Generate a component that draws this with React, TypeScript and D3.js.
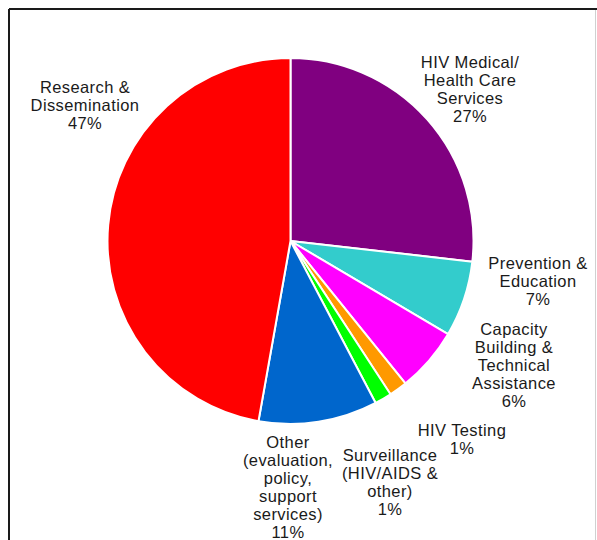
import React from "react";
import * as d3 from "d3";

const categories = [
  "HIV Medical/Health Care Services",
  "Prevention & Education",
  "Capacity Building & Technical Assistance",
  "HIV Testing",
  "Surveillance (HIV/AIDS & other)",
  "Other (evaluation, policy, support services)",
  "Research & Dissemination",
];
const values = [26.8, 6.7, 5.7, 1.6, 1.5, 10.5, 47.2];
const colors = ["#800080", "#33CCCC", "#FF00FF", "#FF9900", "#00FF00", "#0066CC", "#FF0000"];
const labelLines = [
  ["HIV Medical/", "Health Care", "Services", "27%"],
  ["Prevention &", "Education", "7%"],
  ["Capacity", "Building &", "Technical", "Assistance", "6%"],
  ["HIV Testing", "1%"],
  ["Surveillance", "(HIV/AIDS &", "other)", "1%"],
  ["Other", "(evaluation,", "policy,", "support", "services)", "11%"],
  ["Research &", "Dissemination", "47%"],
];
// label anchor (center x, first baseline)
const labelPos: [number, number][] = [
  [470, 68],
  [538, 269],
  [514, 335],
  [462, 436],
  [390, 461],
  [288, 448],
  [85, 93],
];

export default function App() {
  const W = 597, H = 540;
  const cx = 290.5, cy = 241, r = 183;
  const pie = d3.pie<number>().sort(null).value((d) => d).startAngle(0).endAngle(2 * Math.PI);
  const arcs = pie(values);
  const arc = d3.arc<d3.PieArcDatum<number>>().innerRadius(0).outerRadius(r);
  const lh = 18;
  return (
    <>
      <style>{`body{margin:0}`}</style>
      <svg width={W} height={H} style={{ display: "block", background: "#fff" }}>
        <line x1={9} y1={9} x2={597} y2={9} stroke="#1a1a1a" strokeWidth={2} />
        <line x1={9} y1={9} x2={9} y2={540} stroke="#1a1a1a" strokeWidth={2} />
        <line x1={595.5} y1={10} x2={595.5} y2={540} stroke="#d0d0d0" strokeWidth={1} />
        <g transform={`translate(${cx},${cy})`}>
          {arcs.map((a, i) => (
            <path key={categories[i]} d={arc(a) || ""} fill={colors[i]} stroke="#fff" strokeWidth={2} strokeLinejoin="round" />
          ))}
        </g>
        <g fontFamily="'Liberation Sans', Arial, sans-serif" fontSize={16.5} fill="#1a1a1a" textAnchor="middle" letterSpacing={0.4}>
          {labelLines.map((lines, i) => (
            <text key={categories[i]} x={labelPos[i][0]} y={labelPos[i][1]}>
              {lines.map((t, j) => (
                <tspan key={j} x={labelPos[i][0]} y={labelPos[i][1] + j * lh}>
                  {t}
                </tspan>
              ))}
            </text>
          ))}
        </g>
      </svg>
    </>
  );
}
